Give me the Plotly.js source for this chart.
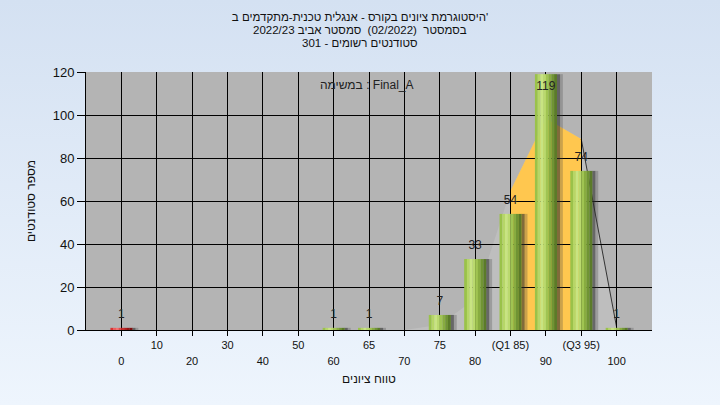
<!DOCTYPE html>
<html><head><meta charset="utf-8">
<script src="https://cdn.plot.ly/plotly-3.0.1.min.js"></script>
<style>
html,body{margin:0;padding:0;width:720px;height:405px;overflow:hidden;background:linear-gradient(180deg,#d4e1f2 0%,#eef5fd 100%);}
#chart{width:720px;height:405px;}
</style></head><body><div id="chart"></div>
<script>
// ---- data ----
const categories = ['0','10','20','30','40','50','60','65','70','75','80','85','90','95','100'];
const tickLabels = ['0','10','20','30','40','50','60','65','70','75','80','(Q1 85)','90','(Q3 95)','100'];
const counts = [1,0,0,0,0,0,1,1,0,7,33,54,119,74,1];
const curveValues = [0,0,0,0,0,0,0,0,0,2,12,54,82,74,1];
const iqrCategories = ['85','90','95'];
const iqrValues = [54,82,74];
const tailCategories = ['95','100'];
const tailValues = [74,1];
const leftTicks = [0,20,40,60,80,100,120];
const rightTicks = [0,20,40,60,80,100];
const failCategories = ['0'];

const titleLine1 = "היסטוגרמת ציונים בקורס - אנגלית טכנית-מתקדמים ב'";
const titleLine2 = "בסמסטר  (02/2022)  סמסטר אביב 2022/23";
const titleLine3 = "סטודנטים רשומים - 301";
const examLabel = "במשימה : Final_A";
const yTitle = "מספר סטודנטים";
const xTitle = "טווח ציונים";

// ---- styling ----
const FONT = 'Liberation Sans, Arial, sans-serif';
const greens = ['#9AC24A','#B6D668','#C8E482','#BAD96E','#A0C452','#88AC40','#709434','#5B7B29'];
const reds   = ['#D83232','#EE5C5C','#F47272','#E24A4A','#C82A2A','#B01E1E','#961414','#7E0C0C'];
const barW = 0.62;

const traces = [];
// area (right-axis scale) drawn underneath
traces.push({type:'scatter', mode:'lines', x:categories, y:curveValues, xaxis:'x', yaxis:'y',
  fill:'tozeroy', fillcolor:'#BEBEBE', line:{width:0}, hoverinfo:'skip'});
traces.push({type:'scatter', mode:'lines', x:iqrCategories, y:iqrValues, xaxis:'x', yaxis:'y',
  fill:'tozeroy', fillcolor:'#FFC74F', line:{width:0}, hoverinfo:'skip'});
traces.push({type:'scatter', mode:'lines', x:tailCategories, y:tailValues, xaxis:'x', yaxis:'y',
  line:{width:1, color:'#333'}, hoverinfo:'skip'});

// bar shadows
traces.push({type:'bar', x:categories, y:counts, xaxis:'x2', yaxis:'y2', width:0.09, offset:barW/2,
  marker:{color:'rgba(45,45,45,0.6)', line:{width:0}}, hoverinfo:'skip'});
traces.push({type:'bar', x:categories, y:counts, xaxis:'x2', yaxis:'y2', width:0.08, offset:barW/2+0.09,
  marker:{color:'rgba(70,70,70,0.28)', line:{width:0}}, hoverinfo:'skip'});

// gradient bar stripes
const n = greens.length, sw = barW/n;
for (let k=0;k<n;k++){
  traces.push({type:'bar', x:categories, y:counts, xaxis:'x2', yaxis:'y2',
    width:sw+0.004, offset:-barW/2 + k*sw,
    marker:{color:categories.map(c => failCategories.includes(c) ? reds[k] : greens[k]), line:{width:0}},
    hoverinfo:'skip'});
}

// value labels
const lblX = [], lblY = [], lblT = [], lblPos = [];
counts.forEach((v,i)=>{ if(v>0){ lblX.push(categories[i]); lblY.push(v); lblT.push(String(v));
  lblPos.push(v>110 ? 'bottom center' : 'top center'); }});
traces.push({type:'scatter', mode:'markers+text', x:lblX, y:lblY, text:lblT, textposition:lblPos,
  marker:{size:9, color:'rgba(0,0,0,0)'},
  xaxis:'x2', yaxis:'y2', cliponaxis:false, textfont:{family:FONT, size:12, color:'#222'}, hoverinfo:'skip'});

const evenCats = categories.filter((c,i)=>i%2===0);
const evenText = tickLabels.filter((c,i)=>i%2===0);
const oddText = tickLabels.map((t,i)=> i%2===1 ? t : '');

const layout = {
  width:720, height:405,
  margin:{l:86, r:68, t:72, b:75},
  paper_bgcolor:'rgba(0,0,0,0)', plot_bgcolor:'rgba(0,0,0,0)',
  showlegend:false, barmode:'overlay',
  font:{family:FONT, size:12, color:'#111'},
  title:{text: titleLine1, x:0.5, xanchor:'center', y:1-17/405, yanchor:'middle',
    font:{family:FONT, size:11.5, color:'#111'}},
  shapes:[{type:'rect', xref:'paper', yref:'paper', x0:0, x1:1, y0:0, y1:1, layer:'below',
    fillcolor:'#B4B4B4', line:{width:0}}],
  annotations:[
    {text: titleLine2, xref:'paper', yref:'paper', x:(360-86)/566, y:(330-30)/258,
      xanchor:'center', yanchor:'middle', showarrow:false, font:{family:FONT, size:11.5, color:'#111'}},
    {text: titleLine3, xref:'paper', yref:'paper', x:(360-86)/566, y:(330-43)/258,
      xanchor:'center', yanchor:'middle', showarrow:false, font:{family:FONT, size:11.5, color:'#111'}},
    {text: examLabel, xref:'paper', yref:'paper', x:(367-86)/566, y:(330-85)/258,
      xanchor:'center', yanchor:'middle', showarrow:false, font:{family:FONT, size:12, color:'#222'}}
  ],
  xaxis:{type:'category', categoryorder:'array', categoryarray:categories, range:[-1,15],
    anchor:'y', showgrid:false, zeroline:false, showline:false,
    tickmode:'array', tickvals:evenCats, ticktext:evenText,
    ticks:'outside', ticklen:5, tickcolor:'rgba(0,0,0,0)', ticklabelstandoff:16,
    tickfont:{family:FONT, size:11, color:'#111'}, fixedrange:true},
  yaxis:{range:[0,100], visible:false, fixedrange:true},
  xaxis2:{type:'category', categoryorder:'array', categoryarray:categories, range:[-1,15],
    anchor:'y2', showgrid:true, gridcolor:'#000', gridwidth:1, zeroline:false,
    showline:true, linecolor:'#000', linewidth:1,
    tickmode:'array', tickvals:categories, ticktext:oddText,
    ticks:'outside', ticklen:5, tickcolor:'#000',
    tickfont:{family:FONT, size:11, color:'#111'},
    title:{text:xTitle, standoff:24, font:{family:FONT, size:12, color:'#111'}}, fixedrange:true},
  yaxis2:{range:[0,120], anchor:'x2', side:'left', tickmode:'array', tickvals:leftTicks,
    showgrid:true, gridcolor:'#000', gridwidth:1, zeroline:false,
    showline:true, linecolor:'#000', ticks:'outside', ticklen:8, tickcolor:'#000',
    tickfont:{family:FONT, size:13, color:'#111'},
    title:{text:yTitle, standoff:14, font:{family:FONT, size:12, color:'#111'}}, fixedrange:true},
  yaxis3:{range:[0,100], anchor:'x2', overlaying:'y2', side:'right', tickmode:'array', tickvals:rightTicks,
    showgrid:true, gridcolor:'#000', gridwidth:1, zeroline:false,
    showline:true, linecolor:'#000', ticks:'outside', ticklen:8, tickcolor:'#000',
    tickfont:{family:FONT, size:13, color:'#111'}, fixedrange:true}
};

Plotly.newPlot('chart', traces, layout, {staticPlot:true, displayModeBar:false});
</script></body></html>
